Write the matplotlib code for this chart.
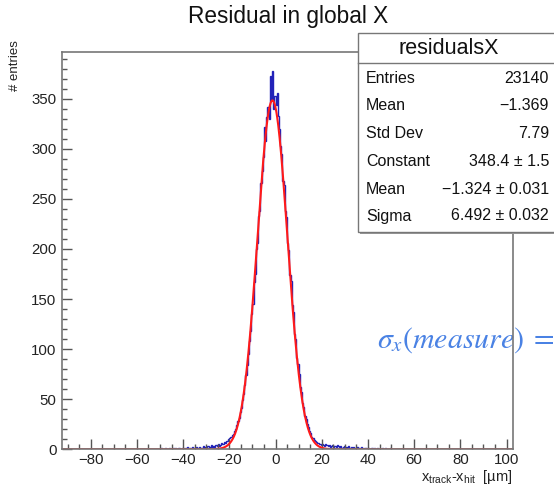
import numpy as np
import matplotlib
matplotlib.use("Agg")
import matplotlib.pyplot as plt
from matplotlib.patches import Rectangle
from matplotlib.lines import Line2D
from matplotlib.ticker import MultipleLocator

plt.rcParams['font.family'] = ['Liberation Sans', 'DejaVu Sans']
plt.rcParams['mathtext.fontset'] = 'custom'
plt.rcParams['mathtext.rm'] = 'Liberation Sans'
plt.rcParams['mathtext.it'] = 'Liberation Sans:italic'

# histogram: 0.5 um bins from -50 to 50 (counts)
bin_lo, bin_hi, bin_w = -50.0, 50.0, 0.5
counts = [
    0, 1, 0, 0, 1, 0, 0, 0, 1, 0, 0, 1, 0, 1, 0, 0, 1, 0, 0, 1,            # -50..-40
    1, 0, 1, 2, 0, 1, 1, 0, 2, 1, 1, 2, 0, 1, 2, 1, 1, 3, 1, 2,            # -40..-30
    2, 3, 1, 2, 4, 2, 3, 2, 4, 3, 5, 3, 4, 6, 5, 7, 6, 8, 8, 10,           # -30..-20
    11, 12, 14, 15, 18, 20, 24, 28, 31, 37, 41, 49, 55, 64, 74, 84, 95, 108, 118, 135,   # -20..-10
    145, 167, 175, 200, 206, 233, 238, 266, 278, 292, 322, 308, 332, 342, 330, 373, 349, 378, 340, 353,  # -10..0
    344, 356, 333, 320, 303, 295, 268, 264, 238, 232, 206, 199, 174, 168, 144, 137, 115, 110, 91, 85,   # 0..10
    75, 62, 57, 46, 42, 33, 30, 25, 22, 18, 16, 12, 11, 9, 8, 7, 6, 6, 5, 4,  # 10..20
    5, 4, 3, 5, 4, 3, 4, 2, 3, 4, 2, 3, 2, 4, 3, 2, 3, 1, 2, 3,            # 20..30
    2, 1, 2, 3, 1, 2, 1, 2, 0, 1, 2, 1, 1, 0, 2, 1, 0, 1, 1, 0,            # 30..40
    1, 0, 0, 1, 0, 1, 0, 0, 1, 0, 0, 0, 1, 0, 0, 1, 0, 0, 0, 1,            # 40..50
]

# gaussian fit parameters (from the stats box)
fit_const, fit_mean, fit_sigma = 348.4, -1.324, 6.492

stat_labels = ['Entries', 'Mean', 'Std Dev', 'Constant', 'Mean', 'Sigma']
stat_values = ['23140', '\u22121.369', '7.79', '348.4 \u00b1 1.5',
               '\u22121.324 \u00b1 0.031', '6.492 \u00b1 0.032']

W, H = 554, 486
def fx(px):
    return px / W
def fy(py):
    return 1 - py / H

fig = plt.figure(figsize=(W / 100, H / 100), dpi=100)
fig.patch.set_facecolor('white')
ax = fig.add_axes([fx(62), fy(449.3), (513.3 - 62) / W, (449.3 - 51.7) / H])
ax.set_zorder(1)
ax.patch.set_visible(False)

edges = np.arange(bin_lo, bin_hi + bin_w / 2, bin_w)
hcol = '#2222b8'
ax.plot([-92.4, bin_lo], [0, 0], color=hcol, lw=1)
ax.plot([bin_hi, 102.9], [0, 0], color=hcol, lw=1)
ax.stairs(counts, edges, color=hcol, lw=1)

xf = np.linspace(-92.4, 102.9, 2000)
ax.plot(xf, fit_const * np.exp(-0.5 * ((xf - fit_mean) / fit_sigma) ** 2),
        color='#ff1a1a', lw=1.5)

ax.set_xlim(-92.4, 102.9)
ax.set_ylim(0, 397)
ax.xaxis.set_major_locator(MultipleLocator(20))
ax.xaxis.set_minor_locator(MultipleLocator(5))
ax.yaxis.set_major_locator(MultipleLocator(50))
ax.yaxis.set_minor_locator(MultipleLocator(10))
ax.tick_params(which='both', direction='in', color='#555555', width=1,
               labelsize=10.8, labelcolor='#222222')
ax.tick_params(which='major', length=7)
ax.tick_params(which='minor', length=3.5)
ax.tick_params(axis='x', pad=3)
ax.tick_params(axis='y', pad=4)
for s in ax.spines.values():
    s.set_color('#777777')
    s.set_linewidth(1.2)

fig.text(fx(288), fy(17), 'Residual in global X', ha='center', va='center',
         fontsize=16.3, color='#111111')
fig.text(fx(15), fy(40), '# entries', rotation=90, ha='center', va='top',
         fontsize=9.5, color='#222222')
fig.text(fx(512), fy(481), 'x$_{\\rm track}$-x$_{\\rm hit}$  [\u00b5m]',
         ha='right', va='baseline', fontsize=10.5, color='#222222')

# blue annotation behind the frame
fig.text(fx(377), fy(348), r'$\sigma_x(measure)\;=$', math_fontfamily='stix',
         color='#4a82e4', fontsize=21.5, ha='left', va='baseline', zorder=0.5)

# stats box
bx0, by0, by1 = 357.7, 33.3, 232.0
fig.patches.append(Rectangle((fx(bx0 + 2), fy(by1 + 2)), (600 - bx0) / W,
                             (by1 - by0) / H, transform=fig.transFigure,
                             fc='#999999', ec='none', zorder=2.9))
fig.patches.append(Rectangle((fx(bx0), fy(by1)), (600 - bx0) / W,
                             (by1 - by0) / H, transform=fig.transFigure,
                             fc='white', ec='#777777', lw=1, zorder=3))
fig.lines.append(Line2D([fx(bx0), fx(600)], [fy(63.3), fy(63.3)],
                        transform=fig.transFigure, color='#777777', lw=1,
                        zorder=3.1))
fig.text(fx(449), fy(48), 'residualsX', ha='center', va='center',
         fontsize=15.5, color='#111111', zorder=4)
row_y = [78, 106, 134, 162, 189, 216]
for lab, val, yy in zip(stat_labels, stat_values, row_y):
    fig.text(fx(366), fy(yy), lab, ha='left', va='center', fontsize=11.5,
             color='#111111', zorder=4)
    fig.text(fx(549), fy(yy), val, ha='right', va='center', fontsize=11.5,
             color='#111111', zorder=4)

fig.savefig('out.png', dpi=100)
